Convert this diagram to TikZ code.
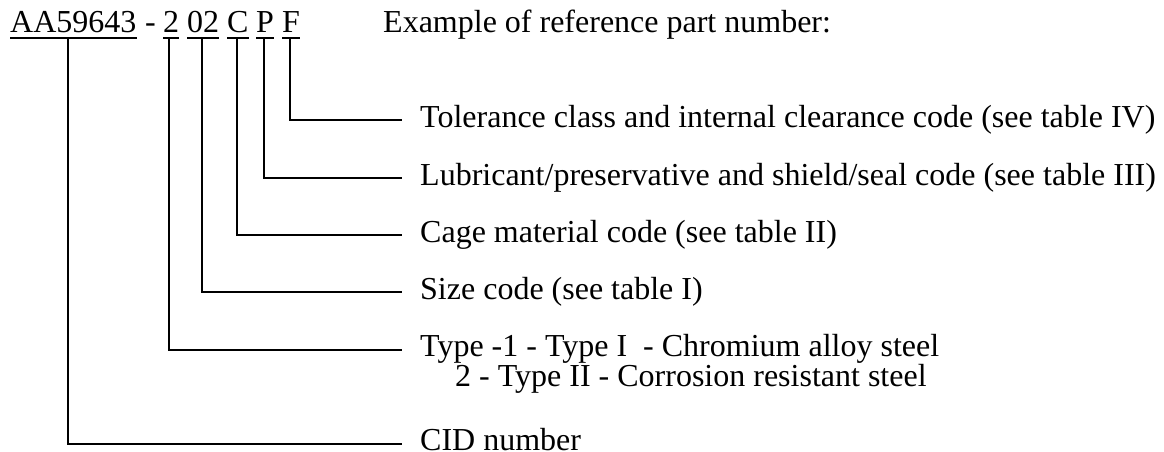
\documentclass[tikz,border=0pt]{standalone}
\usepackage{fontspec}
\setmainfont{Liberation Serif}
\tikzset{
  txt/.style={inner sep=0pt, anchor=base west, font=\fontsize{32}{38}\selectfont},
  leader/.style={line width=1.1pt, line join=miter},
  uline/.style={line width=1.3pt}
}
\begin{document}
\begin{tikzpicture}[x=1pt,y=-1pt]
\useasboundingbox (0,0) rectangle (1164,452);
% part number pieces
\node[txt] (nAA) at (10,33) {AA59643};
\node[txt] (dash) at (145,33) {-};
\node[txt] (nT) at (163,33) {2};
\node[txt] (nS) at (187,33) {02};
\node[txt] (nC) at (227,33) {C};
\node[txt] (nP) at (256,33) {P};
\node[txt] (nF) at (282,33) {F};
\node[txt] (title) at (383,33) {Example of reference part number:};
% underlines
\coordinate (uy) at (0,38);
\foreach \n in {nAA,nT,nS,nC,nP,nF}{
  \draw[uline] (\n.base west |- uy) -- (\n.base east |- uy);
}
% leader tops
\coordinate (topAA) at (68,38);
\coordinate (topT) at (169,38);
\coordinate (topS) at (202,38);
\coordinate (topC) at (237,38);
\coordinate (topP) at (264,38);
\coordinate (topF) at (290,38);
% leader ends
\coordinate (endF) at (402,120);
\coordinate (endP) at (402,178);
\coordinate (endC) at (402,235);
\coordinate (endS) at (402,292);
\coordinate (endT) at (402,350);
\coordinate (endAA) at (402,444);
% labels
\node[txt] (lF) at (420,127) {Tolerance class and internal clearance code (see table IV)};
\node[txt] (lP) at (420,185) {Lubricant/preservative and shield/seal code (see table III)};
\node[txt] (lC) at (420,242) {Cage material code (see table II)};
\node[txt] (lS) at (420,299) {Size code (see table I)};
\node[txt] (lT) at (420,356) {Type -1 - Type I~ - Chromium alloy steel};
\node[txt] (lT2) at (455,386) {2 - Type II - Corrosion resistant steel};
\node[txt] (lAA) at (420,450) {CID number};
% connectors
\draw[leader] (topF) |- (endF);
\draw[leader] (topP) |- (endP);
\draw[leader] (topC) |- (endC);
\draw[leader] (topS) |- (endS);
\draw[leader] (topT) |- (endT);
\draw[leader] (topAA) |- (endAA);
\end{tikzpicture}
\end{document}
